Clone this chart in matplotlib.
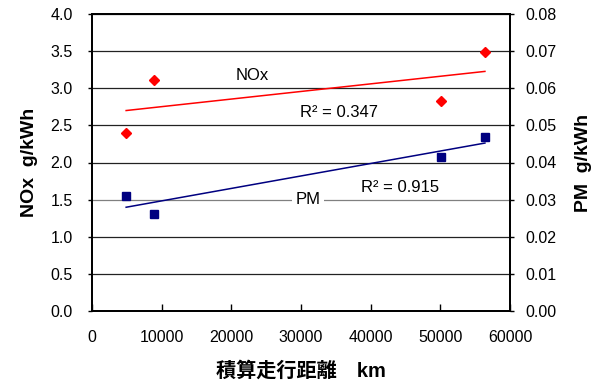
import numpy as np
import matplotlib
matplotlib.use("Agg")
import matplotlib.pyplot as plt

plt.rcParams['font.family'] = ['Liberation Sans', 'Noto Sans CJK JP', 'DejaVu Sans']

# 積算走行距離 (km) と排出量
distance_km = [4900, 8900, 50100, 56400]
nox_g_kwh = [2.40, 3.11, 2.83, 3.49]
pm_g_kwh = [0.0310, 0.0262, 0.0415, 0.0469]

nox_r2_text = "R² = 0.347"
pm_r2_text = "R² = 0.915"

left_ticks = [0.0, 0.5, 1.0, 1.5, 2.0, 2.5, 3.0, 3.5, 4.0]
right_ticks = [0.00, 0.01, 0.02, 0.03, 0.04, 0.05, 0.06, 0.07, 0.08]
x_ticks = [0, 10000, 20000, 30000, 40000, 50000, 60000]

fig = plt.figure(figsize=(6.07, 3.85), dpi=100)
ax = fig.add_axes([92 / 607, 1 - 311 / 385, (510 - 92) / 607, (311 - 14) / 385])
ax2 = ax.twinx()

# 近似直線
x = np.array(distance_km, dtype=float)
xl = np.array([x.min(), x.max()])
k1, b1 = np.polyfit(x, nox_g_kwh, 1)
k2, b2 = np.polyfit(x, pm_g_kwh, 1)

ax.set_xlim(0, 60000)
ax.set_ylim(0, 4.0)
ax2.set_ylim(0, 0.08)

ax.set_yticks(left_ticks)
ax.set_yticklabels([f"{v:.1f}" for v in left_ticks])
ax2.set_yticks(right_ticks)
ax2.set_yticklabels([f"{v:.2f}" for v in right_ticks])
ax.set_xticks(x_ticks)
ax.set_xticklabels([str(v) for v in x_ticks])

ax.yaxis.grid(True, color='#222222', linewidth=0.9)
ax.set_axisbelow(True)
ax.get_ygridlines()[3].set_color('#808080')

ax.plot(xl, k1 * xl + b1, color='#FF0000', lw=1.1, zorder=3)
ax2.plot(xl, k2 * xl + b2, color='#000080', lw=1.1, zorder=3)
ax.plot(distance_km, nox_g_kwh, linestyle='none', marker='D', ms=5.5,
        color='#FF0000', zorder=4)
ax2.plot(distance_km, pm_g_kwh, linestyle='none', marker='s', ms=6,
         color='#000080', zorder=4)

ax.text(23000, 3.17, "NOx", fontsize=12, ha='center', va='center')
ax.text(35400, 2.68, nox_r2_text, fontsize=12, ha='center', va='center')
ax.text(44200, 1.66, pm_r2_text, fontsize=12, ha='center', va='center')
ax.text(31000, 1.50, "PM", fontsize=12, ha='center', va='center',
        bbox=dict(facecolor='white', edgecolor='none', pad=2.5), zorder=5)

for a in (ax, ax2):
    for s in a.spines.values():
        s.set_linewidth(1.3)
        s.set_color('black')

ax.tick_params(axis='x', direction='in', length=5, width=1, pad=14, labelsize=11.5)
ax.tick_params(axis='y', direction='out', length=3, width=1, pad=11, labelsize=11.5)
ax2.tick_params(axis='y', direction='out', length=3, width=1, pad=8, labelsize=11.5)

ax.set_xlabel("積算走行距離　km", fontsize=14.5, fontweight='bold', labelpad=11)
ax.set_ylabel("NOx  g/kWh", fontsize=14, fontweight='bold', labelpad=9)
ax2.set_ylabel("PM  g/kWh", fontsize=14, fontweight='bold', labelpad=13)

fig.savefig("out.png", dpi=100)
